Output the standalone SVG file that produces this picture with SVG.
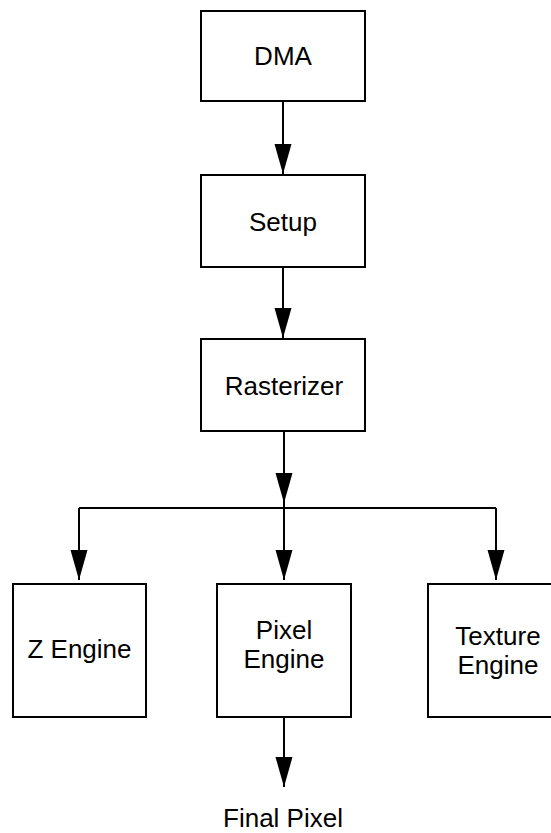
<svg xmlns="http://www.w3.org/2000/svg" width="551" height="833" viewBox="0 0 551 833">
<defs>
<style>
.box{fill:#fff;stroke:#000;stroke-width:2}
.lbl{font-family:"Liberation Sans",Arial,sans-serif;font-size:26px;fill:#000;text-anchor:middle}
.conn{fill:none;stroke:#000;stroke-width:2}
</style>
<marker id="arr" markerUnits="userSpaceOnUse" markerWidth="30" markerHeight="18" refX="30" refY="9" orient="auto">
<path d="M0,0.5 L30,9 L0,17.5 z" fill="#000"/>
</marker>
</defs>
<rect width="551" height="833" fill="#fff"/>
<g id="connectors">
<path class="conn" d="M283,101 V174" marker-end="url(#arr)"/>
<path class="conn" d="M283,267 V338" marker-end="url(#arr)"/>
<path class="conn" d="M284,431 V503" marker-end="url(#arr)"/>
<path class="conn" d="M284,503 V508"/>
<path class="conn" d="M79,508 H496"/>
<path class="conn" d="M79,508 V580" marker-end="url(#arr)"/>
<path class="conn" d="M284,508 V580" marker-end="url(#arr)"/>
<path class="conn" d="M496,508 V580" marker-end="url(#arr)"/>
<path class="conn" d="M284,717 V787" marker-end="url(#arr)"/>
</g>
<g id="dma">
<rect class="box" x="201" y="11" width="164" height="90"/>
<text class="lbl" x="283" y="65">DMA</text>
</g>
<g id="setup">
<rect class="box" x="201" y="175" width="164" height="92"/>
<text class="lbl" x="283" y="231">Setup</text>
</g>
<g id="rasterizer">
<rect class="box" x="201" y="339" width="164" height="92"/>
<text class="lbl" x="284" y="395">Rasterizer</text>
</g>
<g id="zengine">
<rect class="box" x="13" y="584" width="133" height="133"/>
<text class="lbl" x="79.5" y="658">Z Engine</text>
</g>
<g id="pixelengine">
<rect class="box" x="217" y="584" width="134" height="133"/>
<text class="lbl" x="284" y="639">Pixel</text>
<text class="lbl" x="284" y="668">Engine</text>
</g>
<g id="textureengine">
<rect class="box" x="428" y="584" width="140" height="133"/>
<text class="lbl" x="498" y="645">Texture</text>
<text class="lbl" x="498" y="674">Engine</text>
</g>
<g id="finalpixel">
<text class="lbl" x="283" y="827">Final Pixel</text>
</g>
</svg>
